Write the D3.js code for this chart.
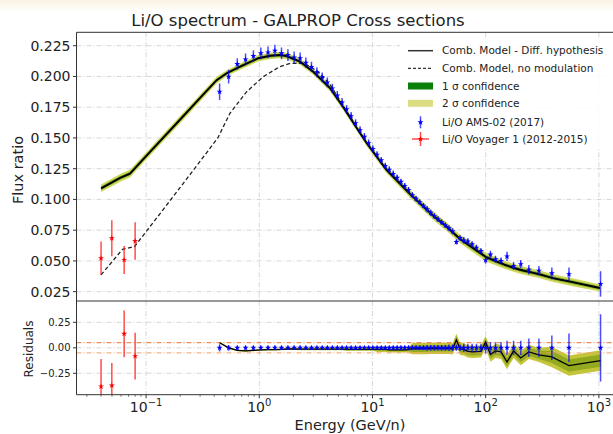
<!DOCTYPE html>
<html><head><meta charset="utf-8">
<script src="https://cdn.jsdelivr.net/npm/d3@7"></script>
<style>body{margin:0;background:#fff}svg{display:block}text{font-family:"DejaVu Sans",sans-serif;fill:#222}</style>
</head><body><svg id="c" width="613" height="434"></svg>
<script>
// ---------- data ----------
const amsE = [0.446,0.536,0.639,0.756,0.887,1.032,1.194,1.373,1.571,1.791,
  2.031,2.294,2.579,2.891,3.229,3.595,3.992,4.420,4.888,5.382,
  5.902,6.472,7.092,7.763,8.484,9.255,10.08,10.97,11.95,12.97,
  14.07,15.24,16.49,17.84,19.28,20.83,22.48,24.25,26.15,28.18,
  30.35,32.70,35.22,37.92,40.82,43.95,47.32,51.07,55.07,59.32,
  64.07,69.57,75.82,82.82,90.82,99.82,110.1,122.1,136.6,154.3,
  176.3,204.1,240.6,295.3,384.1,544.1,1034];
const amsV = [0.1876,0.1998,0.2101,0.2139,0.2166,0.2188,0.2196,0.2210,0.2188,0.2174,
  0.2155,0.2148,0.2111,0.2077,0.2035,0.1993,0.1952,0.1902,0.1845,0.1788,
  0.1733,0.1677,0.1620,0.1563,0.1509,0.1458,0.1411,0.1364,0.1318,0.1273,
  0.1242,0.1208,0.1176,0.1143,0.1110,0.1077,0.1035,0.1006,0.0978,0.0949,
  0.0920,0.0891,0.0864,0.0840,0.0814,0.0790,0.0765,0.0740,0.0654,0.0686,
  0.0667,0.0658,0.0635,0.0608,0.0580,0.0506,0.0552,0.0514,0.0500,0.0536,
  0.0459,0.0474,0.0429,0.0420,0.0399,0.0392,0.0313];
const amsRelErr = [0.036,0.028,0.022,0.022,0.022,0.022,0.022,0.022,0.022,0.022,
  0.022,0.022,0.02,0.02,0.02,0.02,0.02,0.02,0.02,0.02,
  0.02,0.02,0.02,0.02,0.02,0.02,0.02,0.02,0.02,0.02,
  0.022,0.022,0.022,0.022,0.022,0.022,0.022,0.022,0.022,0.022,
  0.028,0.028,0.028,0.028,0.028,0.028,0.032,0.032,0.032,0.032,
  0.04,0.04,0.04,0.04,0.04,0.055,0.055,0.055,0.055,0.07,
  0.07,0.07,0.09,0.09,0.12,0.14,0.33];
const resModel = [0.05,0.0,-0.025,-0.03,-0.025,-0.02,-0.018,-0.018,-0.015,-0.012,
  -0.012,-0.013,-0.013,-0.013,-0.013,-0.013,-0.013,-0.013,-0.013,-0.013,
  -0.015,-0.015,-0.015,-0.015,-0.015,-0.015,-0.015,-0.015,-0.015,-0.015,
  -0.02,-0.02,-0.02,-0.02,-0.02,-0.018,-0.008,-0.008,-0.008,-0.008,
  -0.008,-0.005,-0.005,-0.005,-0.005,-0.005,-0.005,-0.01,0.078,-0.01,
  -0.015,-0.035,-0.04,-0.038,-0.035,0.055,-0.066,-0.03,-0.04,-0.14,
  -0.03,-0.10,-0.04,-0.07,-0.09,-0.175,-0.125];
const resBand1 = [0.004,0.004,0.004,0.004,0.004,0.004,0.004,0.004,0.004,0.004,
  0.005,0.005,0.005,0.005,0.005,0.005,0.005,0.005,0.005,0.005,
  0.008,0.008,0.008,0.008,0.008,0.008,0.008,0.014,0.014,0.014,
  0.014,0.014,0.014,0.014,0.014,0.014,0.032,0.032,0.032,0.032,
  0.032,0.032,0.032,0.032,0.032,0.032,0.032,0.032,0.035,0.035,
  0.035,0.035,0.035,0.035,0.035,0.035,0.04,0.04,0.04,0.04,
  0.04,0.04,0.04,0.04,0.06,0.06,0.06];
const resBand2 = [0.008,0.008,0.008,0.008,0.008,0.008,0.008,0.008,0.008,0.008,
  0.01,0.01,0.01,0.01,0.01,0.01,0.01,0.01,0.01,0.01,
  0.015,0.015,0.015,0.015,0.015,0.015,0.015,0.025,0.025,0.025,
  0.025,0.025,0.025,0.025,0.025,0.025,0.055,0.055,0.055,0.055,
  0.055,0.055,0.055,0.055,0.055,0.055,0.055,0.055,0.06,0.06,
  0.06,0.06,0.06,0.06,0.06,0.06,0.07,0.07,0.07,0.07,
  0.07,0.07,0.07,0.07,0.1,0.1,0.1];

const modelE = [0.04,0.05,0.059,0.072,0.1,0.2,0.3,0.42,0.515,0.676,0.98,1.25,1.52,1.75,2.29,2.98,4.21,5.49,7.45,8.9,13.3,21.4,34.2,45,59,80,102,150,201,300,393,600,1020];
const modelV = [0.109,0.1139,0.1175,0.121,0.1352,0.165,0.1825,0.197,0.2026,0.208,0.2148,0.2168,0.2174,0.2165,0.212,0.204,0.1906,0.1754,0.1565,0.1457,0.124,0.1045,0.087,0.078,0.068,0.0595,0.0528,0.0465,0.0428,0.039,0.036,0.0325,0.028];
const bandTop1 = [0.014,0.014,0.013,0.013,0.011,0.009,0.008,0.007,0.006,0.006,0.006,0.006,0.006,0.006,0.006,0.006,0.007,0.008,0.008,0.009,0.011,0.015,0.02,0.022,0.025,0.03,0.032,0.035,0.038,0.04,0.045,0.05,0.05];
const bandTop2 = [0.028,0.028,0.027,0.026,0.022,0.018,0.016,0.014,0.012,0.012,0.012,0.012,0.012,0.012,0.012,0.012,0.014,0.015,0.016,0.018,0.022,0.03,0.04,0.045,0.05,0.06,0.065,0.07,0.075,0.08,0.09,0.1,0.1];

const noModE = [0.04,0.062,0.079,0.133,0.25,0.43,0.55,0.774,1.085,1.52,1.87,2.45,2.98,3.43,4.21,5.49,7.45,8.9,13.3,21.4,34.2,45,59,80,102,150,201,300,393,600,1020];
const noModV = [0.0386,0.0595,0.0616,0.0885,0.1214,0.150,0.170,0.1876,0.1998,0.208,0.2107,0.2107,0.2066,0.2026,0.1935,0.1765,0.157,0.1459,0.124,0.1045,0.087,0.078,0.068,0.0595,0.0528,0.0465,0.0428,0.039,0.036,0.0325,0.028];

const voyE = [0.04,0.0498,0.064,0.080];
const voyV = [0.0522,0.0684,0.0508,0.0662];
const voyErr = [0.0136,0.0146,0.0114,0.0152];
const voyRes = [-0.379,-0.37,0.137,-0.082];
const voyResErr = [0.27,0.22,0.23,0.23];

const yTicksTop = [0.025,0.05,0.075,0.1,0.125,0.15,0.175,0.2,0.225];
const yTicksRes = [-0.25,0,0.25];
const xTickExp = [-1,0,1,2,3];
const legendLabels = ["Comb. Model - Diff. hypothesis","Comb. Model, no modulation","1 \u03c3 confidence","2 \u03c3 confidence","Li/O AMS-02 (2017)","Li/O Voyager 1 (2012-2015)"];
const titleText = "Li/O spectrum - GALPROP Cross sections";

(function draw() {
// ---------- layout ----------
const L = 76.5, R = 620, T = 32.3, M = 301, B = 394.7;
const svg = d3.select("#c");
const defs = svg.append("defs");
const gr = defs.append("linearGradient").attr("id","topfade").attr("x1",0).attr("y1",0).attr("x2",0).attr("y2",1);
gr.append("stop").attr("offset","0%").attr("stop-color","#f9f3e2");
gr.append("stop").attr("offset","100%").attr("stop-color","#ffffff");
svg.append("rect").attr("x",0).attr("y",0).attr("width",613).attr("height",12).attr("fill","url(#topfade)");

const x = d3.scaleLog().domain([0.02428, 1536]).range([L, R]);
const yT = d3.scaleLinear().domain([0.0174, 0.2359]).range([M, T]);
const yR = d3.scaleLinear().domain([-0.46, 0.459]).range([B, M]);

defs.append("clipPath").attr("id","clipT").append("rect").attr("x",L).attr("y",T).attr("width",R-L).attr("height",M-T);
defs.append("clipPath").attr("id","clipR").append("rect").attr("x",L).attr("y",M).attr("width",R-L).attr("height",B-M);

const gridCol = "#d3d3d3", gridDash = "5,2,1,2";
const gGrid = svg.append("g");
xTickExp.forEach(e => {
  [[T,M],[M,B]].forEach(([a,b]) => gGrid.append("line").attr("x1",x(10**e)).attr("x2",x(10**e)).attr("y1",a).attr("y2",b)
    .attr("stroke",gridCol).attr("stroke-width",0.9).attr("stroke-dasharray",gridDash));
});
yTicksTop.forEach(v => gGrid.append("line").attr("x1",L).attr("x2",R).attr("y1",yT(v)).attr("y2",yT(v))
  .attr("stroke",gridCol).attr("stroke-width",0.9).attr("stroke-dasharray",gridDash));
yTicksRes.forEach(v => gGrid.append("line").attr("x1",L).attr("x2",R).attr("y1",yR(v)).attr("y2",yR(v))
  .attr("stroke",gridCol).attr("stroke-width",0.9).attr("stroke-dasharray",gridDash));

// ---------- top panel ----------
const gTop = svg.append("g").attr("clip-path","url(#clipT)");
const mIdx = d3.range(modelE.length);
const band2 = d3.area().x(i => x(modelE[i])).y0(i => yT(modelV[i]*(1-bandTop2[i]))).y1(i => yT(modelV[i]*(1+bandTop2[i])));
const band1 = d3.area().x(i => x(modelE[i])).y0(i => yT(modelV[i]*(1-bandTop1[i]))).y1(i => yT(modelV[i]*(1+bandTop1[i])));
gTop.append("path").attr("d",band2(mIdx)).attr("fill","#d2d85c");
gTop.append("path").attr("d",band1(mIdx)).attr("fill","#7cae2c");
gTop.append("path").attr("d",d3.line().x(i=>x(noModE[i])).y(i=>yT(noModV[i]))(d3.range(noModE.length)))
  .attr("fill","none").attr("stroke","#222").attr("stroke-width",1.3).attr("stroke-dasharray","4,2.5");
gTop.append("path").attr("d",d3.line().x(i=>x(modelE[i])).y(i=>yT(modelV[i]))(mIdx))
  .attr("fill","none").attr("stroke","#000").attr("stroke-width",1.9);

const star = d3.symbol().type(d3.symbolStar).size(11)();
amsE.forEach((e,i) => {
  const cx = x(e), v = amsV[i], er = v*amsRelErr[i];
  gTop.append("line").attr("x1",cx).attr("x2",cx).attr("y1",yT(v-er)).attr("y2",yT(v+er))
    .attr("stroke","#0000ff").attr("stroke-opacity",0.7).attr("stroke-width",1.5);
  gTop.append("path").attr("d",star).attr("transform",`translate(${cx},${yT(v)})`).attr("fill","#0000ff");
});
voyE.forEach((e,i) => {
  const cx = x(e), v = voyV[i], er = voyErr[i];
  gTop.append("line").attr("x1",cx).attr("x2",cx).attr("y1",yT(v-er)).attr("y2",yT(v+er))
    .attr("stroke","#ff0000").attr("stroke-opacity",0.7).attr("stroke-width",1.5);
  gTop.append("path").attr("d",star).attr("transform",`translate(${cx},${yT(v)})`).attr("fill","#ff0000");
});

// ---------- residual panel ----------
const gRes = svg.append("g").attr("clip-path","url(#clipR)");
const aIdx = d3.range(amsE.length);
const rb2 = d3.area().x(i=>x(amsE[i])).y0(i=>yR(resModel[i]-resBand2[i])).y1(i=>yR(resModel[i]+resBand2[i]));
const rb1 = d3.area().x(i=>x(amsE[i])).y0(i=>yR(resModel[i]-resBand1[i])).y1(i=>yR(resModel[i]+resBand1[i]));
gRes.append("path").attr("d",rb2(aIdx)).attr("fill","#c4c53a");
gRes.append("path").attr("d",rb1(aIdx)).attr("fill","#93aa1f");
gRes.append("line").attr("x1",L).attr("x2",R).attr("y1",yR(0.05)).attr("y2",yR(0.05))
  .attr("stroke","#e8742e").attr("stroke-width",1).attr("stroke-dasharray","5,2,1,2");
gRes.append("line").attr("x1",L).attr("x2",R).attr("y1",yR(-0.05)).attr("y2",yR(-0.05))
  .attr("stroke","#f0a06a").attr("stroke-width",1).attr("stroke-dasharray","5,2,1,2");
gRes.append("path").attr("d",d3.line().x(i=>x(amsE[i])).y(i=>yR(resModel[i]))(aIdx))
  .attr("fill","none").attr("stroke","#000").attr("stroke-width",1.3);
amsE.forEach((e,i) => {
  const cx = x(e), er = amsRelErr[i];
  gRes.append("line").attr("x1",cx).attr("x2",cx).attr("y1",yR(-er)).attr("y2",yR(er))
    .attr("stroke","#0000ff").attr("stroke-opacity",0.7).attr("stroke-width",1.5);
  gRes.append("path").attr("d",star).attr("transform",`translate(${cx},${yR(0)})`).attr("fill","#0000ff");
});
voyE.forEach((e,i) => {
  const cx = x(e), v = voyRes[i], er = voyResErr[i];
  gRes.append("line").attr("x1",cx).attr("x2",cx).attr("y1",yR(v-er)).attr("y2",yR(v+er))
    .attr("stroke","#ff0000").attr("stroke-opacity",0.7).attr("stroke-width",1.5);
  gRes.append("path").attr("d",star).attr("transform",`translate(${cx},${yR(v)})`).attr("fill","#ff0000");
});

// ---------- axes / spines ----------
const ax = svg.append("g").attr("stroke","#333").attr("stroke-width",1);
ax.append("line").attr("x1",L).attr("x2",R).attr("y1",T).attr("y2",T);
ax.append("line").attr("x1",L).attr("x2",R).attr("y1",M).attr("y2",M);
ax.append("line").attr("x1",L).attr("x2",R).attr("y1",B).attr("y2",B);
ax.append("line").attr("x1",L).attr("x2",L).attr("y1",T).attr("y2",B);

yTicksTop.forEach(v => {
  ax.append("line").attr("x1",L-3.5).attr("x2",L).attr("y1",yT(v)).attr("y2",yT(v));
  svg.append("text").attr("x",L-6).attr("y",yT(v)+5).attr("text-anchor","end").style("font-size","14px").text(v.toFixed(3));
});
yTicksRes.forEach(v => {
  ax.append("line").attr("x1",L-3.5).attr("x2",L).attr("y1",yR(v)).attr("y2",yR(v));
  svg.append("text").attr("x",L-6).attr("y",yR(v)+3.6).attr("text-anchor","end").style("font-size","10px")
    .text(v < 0 ? "\u2212" + Math.abs(v).toFixed(2) : v.toFixed(2));
});
xTickExp.forEach(e => {
  ax.append("line").attr("x1",x(10**e)).attr("x2",x(10**e)).attr("y1",B).attr("y2",B+3.5);
  const t = svg.append("text").attr("x",x(10**e)).attr("y",412).attr("text-anchor","middle").style("font-size","14px");
  t.append("tspan").text("10");
  t.append("tspan").attr("dy",-6).style("font-size","10px").text(e < 0 ? "\u2212" + (-e) : String(e));
});
for (let e = -2; e <= 3; e++) for (let k = 2; k <= 9; k++) {
  const v = k * 10**e;
  if (x(v) > L && x(v) < 613) ax.append("line").attr("x1",x(v)).attr("x2",x(v)).attr("y1",B).attr("y2",B+2).attr("stroke-width",0.7);
}

svg.append("text").attr("transform","translate(23,170) rotate(-90)").attr("text-anchor","middle").style("font-size","14.5px").text("Flux ratio");
svg.append("text").attr("transform","translate(33,349) rotate(-90)").attr("text-anchor","middle").style("font-size","12px").text("Residuals");
svg.append("text").attr("x",350).attr("y",430).attr("text-anchor","middle").style("font-size","14.5px").text("Energy (GeV/n)");
svg.append("text").attr("x",298).attr("y",26).attr("text-anchor","middle").style("font-size","16.5px").text(titleText);

// ---------- legend ----------
const lg = svg.append("g");
lg.append("rect").attr("x",400).attr("y",38).attr("width",230).attr("height",110).attr("fill","#fff").attr("fill-opacity",0.85);
const ly = [50.7,68.3,86,103.3,122.3,139];
const hx0 = 408, hx1 = 433;
lg.append("line").attr("x1",hx0).attr("x2",hx1).attr("y1",ly[0]).attr("y2",ly[0]).attr("stroke","#333").attr("stroke-width",1.5);
lg.append("line").attr("x1",hx0).attr("x2",hx1).attr("y1",ly[1]).attr("y2",ly[1]).attr("stroke","#333").attr("stroke-width",1.2).attr("stroke-dasharray","3,2");
lg.append("rect").attr("x",hx0).attr("y",ly[2]-3.5).attr("width",hx1-hx0).attr("height",7).attr("fill","#0a800a");
lg.append("rect").attr("x",hx0).attr("y",ly[3]-3.5).attr("width",hx1-hx0).attr("height",7).attr("fill","#dcdc82");
lg.append("line").attr("x1",420.5).attr("x2",420.5).attr("y1",ly[4]-6).attr("y2",ly[4]+6).attr("stroke","#0000ff").attr("stroke-opacity",0.7).attr("stroke-width",1.5);
lg.append("path").attr("d",star).attr("transform",`translate(420.5,${ly[4]})`).attr("fill","#0000ff");
lg.append("line").attr("x1",420.5).attr("x2",420.5).attr("y1",ly[5]-7).attr("y2",ly[5]+7).attr("stroke","#ff0000").attr("stroke-opacity",0.7).attr("stroke-width",1.5);
lg.append("line").attr("x1",412).attr("x2",429).attr("y1",ly[5]).attr("y2",ly[5]).attr("stroke","#ff0000").attr("stroke-opacity",0.7).attr("stroke-width",1.5);
lg.append("path").attr("d",star).attr("transform",`translate(420.5,${ly[5]})`).attr("fill","#ff0000");
legendLabels.forEach((s,i) => lg.append("text").attr("x",442).attr("y",ly[i]+3.6).style("font-size","10.5px").text(s));
})();
</script></body></html>
